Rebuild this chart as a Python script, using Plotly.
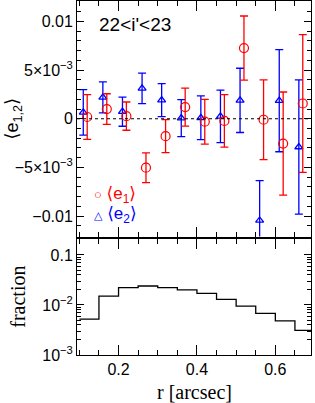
import plotly.graph_objects as go

# ---- data ----
r_e1 = [0.12, 0.17, 0.22, 0.27, 0.32, 0.37, 0.42, 0.47, 0.52, 0.57, 0.62, 0.67]
e1 = [0.18e-3, 1.0e-3, 0.27e-3, -5.03e-3, -1.79e-3, 1.2e-3, -0.3e-3, -0.22e-3, 7.26e-3, -0.1e-3, -2.55e-3, 1.57e-3]
e1_err = [2.3e-3, 1.57e-3, 1.45e-3, 1.53e-3, 1.7e-3, 1.95e-3, 2.3e-3, 2.7e-3, 3.3e-3, 4.1e-3, 5.3e-3, 7.07e-3]

r_e2 = [0.11, 0.16, 0.21, 0.26, 0.31, 0.36, 0.41, 0.46, 0.51, 0.56, 0.61, 0.66]
e2 = [0.65e-3, 2.2e-3, 0.73e-3, 3.12e-3, 1.92e-3, 0.07e-3, 0.1e-3, 0.25e-3, 1.89e-3, -10.45e-3, 1.86e-3, -2.9e-3]
e2_err = [2.34e-3, 1.6e-3, 1.5e-3, 1.57e-3, 1.7e-3, 1.9e-3, 2.25e-3, 2.7e-3, 3.3e-3, 4.1e-3, 5.25e-3, 6.9e-3]

hist_edges = [0.10, 0.15, 0.20, 0.25, 0.30, 0.35, 0.40, 0.45, 0.50, 0.55, 0.60, 0.65, 0.70]
hist_frac = [0.0052, 0.0151, 0.0222, 0.0240, 0.0222, 0.0200, 0.0171, 0.0130, 0.0095, 0.0068, 0.0048, 0.0031]

x_tickvals = [0.2, 0.4, 0.6]
x_ticktext = ["0.2", "0.4", "0.6"]
y1_tickvals = [-0.01, -0.005, 0, 0.005, 0.01]
y1_ticktext = ["\u22120.01", "\u22125\u00d710<sup>\u22123</sup>", "0", "5\u00d710<sup>\u22123</sup>", "0.01"]
y2_tickvals = [0.001, 0.01, 0.1]
y2_ticktext = ["10<sup>\u22123</sup>", "10<sup>\u22122</sup>", "0.1"]
y2_minor = [0.002, 0.003, 0.004, 0.005, 0.006, 0.007, 0.008, 0.009,
            0.02, 0.03, 0.04, 0.05, 0.06, 0.07, 0.08, 0.09, 0.2]

RED = "#ff0000"
BLUE = "#0000ff"
SANS = "Liberation Sans, DejaVu Sans, sans-serif"
SERIF = "Liberation Serif, DejaVu Serif, serif"

fig = go.Figure()

fig.add_trace(go.Scatter(
    x=r_e2, y=e2, mode="markers", xaxis="x", yaxis="y",
    marker=dict(symbol="triangle-up-open", size=7, color=BLUE, line=dict(width=1.3, color=BLUE)),
    error_y=dict(type="data", array=e2_err, color=BLUE, thickness=1.3, width=4),
    showlegend=False, hoverinfo="skip"))
fig.add_trace(go.Scatter(
    x=r_e1, y=e1, mode="markers", xaxis="x", yaxis="y",
    marker=dict(symbol="circle-open", size=9, color=RED, line=dict(width=1.2, color=RED)),
    error_y=dict(type="data", array=e1_err, color=RED, thickness=1.3, width=4),
    showlegend=False, hoverinfo="skip"))

fig.add_trace(go.Scatter(
    x=hist_edges, y=hist_frac + [hist_frac[-1]], mode="lines", line_shape="hv",
    xaxis="x2", yaxis="y2", line=dict(color="black", width=1.3), showlegend=False,
    hoverinfo="skip"))

xrange = [0.094, 0.691]
axis_common = dict(showline=True, linecolor="black", linewidth=1, mirror="allticks",
                   ticks="inside", tickcolor="black", tickwidth=1, showgrid=False,
                   zeroline=False, tickfont=dict(family=SANS, size=16, color="black"))

fig.update_layout(
    width=315, height=403,
    margin=dict(l=77, r=4, t=1, b=48),
    paper_bgcolor="white", plot_bgcolor="white",
    xaxis=dict(range=xrange, domain=[0, 1], anchor="y", tickvals=x_tickvals,
               showticklabels=False, ticklen=10,
               minor=dict(ticks="inside", ticklen=5, dtick=0.05, tick0=0, tickcolor="black", showgrid=False),
               **axis_common),
    yaxis=dict(range=[-0.0121, 0.0121], domain=[0.3347, 1], anchor="x",
               tickvals=y1_tickvals, ticktext=y1_ticktext, ticklen=7,
               minor=dict(ticks="inside", ticklen=4, dtick=0.001, tick0=0, tickcolor="black", showgrid=False),
               **axis_common),
    xaxis2=dict(range=xrange, domain=[0, 1], anchor="y2", tickvals=x_tickvals, ticktext=x_ticktext,
                ticklen=10, matches="x",
                minor=dict(ticks="inside", ticklen=5, dtick=0.05, tick0=0, tickcolor="black", showgrid=False),
                **axis_common),
    yaxis2=dict(type="log", range=[-3, -0.69], domain=[0, 0.3263], anchor="x2",
                tickvals=y2_tickvals, ticktext=y2_ticktext, ticklen=7,
                minor=dict(ticks="inside", ticklen=4, tickvals=y2_minor, tickcolor="black", showgrid=False),
                **axis_common),
)

fig.add_hline(y=0, line=dict(color="black", width=1, dash="dot"), xref="x", yref="y")

fig.add_annotation(text="22&lt;i'&lt;23", xref="x", yref="y", x=0.146, y=0.0097,
                   xanchor="left", yanchor="middle", showarrow=False,
                   font=dict(family=SANS, size=19, color="black"))
fig.add_annotation(text="<span style='font-size:13px'>\u25cb</span> \u27e8e<sub>1</sub>\u27e9",
                   xref="paper", yref="y", x=0.065, y=-0.0078,
                   xanchor="left", yanchor="middle", showarrow=False,
                   font=dict(family=SANS, size=17, color=RED))
fig.add_annotation(text="<span style='font-size:11px'>\u25b3</span> \u27e8e<sub>2</sub>\u27e9",
                   xref="paper", yref="y", x=0.065, y=-0.0099,
                   xanchor="left", yanchor="middle", showarrow=False,
                   font=dict(family=SANS, size=17, color=BLUE))
fig.add_annotation(text="\u27e8e<sub>1,2</sub>\u27e9", xref="paper", yref="y", x=-0.27, y=0,
                   xanchor="center", yanchor="middle", textangle=-90, showarrow=False,
                   font=dict(family=SANS, size=18, color="black"))
fig.add_annotation(text="fraction", xref="paper", yref="y2 domain", x=-0.25, y=0.5,
                   xanchor="center", yanchor="middle", textangle=-90, showarrow=False,
                   font=dict(family=SERIF, size=20, color="black"))
fig.add_annotation(text="r [arcsec]", xref="x2 domain", yref="paper", x=0.5, y=-0.104,
                   xanchor="center", yanchor="middle", showarrow=False,
                   font=dict(family=SERIF, size=20, color="black"))

fig.write_html("out.html",
               config={"displayModeBar": False},
               post_script="document.body.style.margin='0';document.body.style.padding='0';")
